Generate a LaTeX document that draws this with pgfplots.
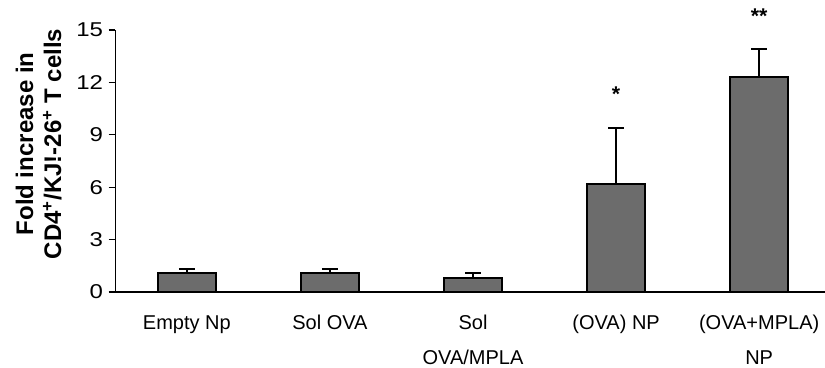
\documentclass[border=0pt]{standalone}
\usepackage{pgfplots}
\pgfplotsset{compat=1.18}
\usepackage{fontspec}
\setmainfont{Liberation Sans}
\definecolor{barfill}{HTML}{6C6C6C}
\begin{document}
\begin{tikzpicture}
\begin{axis}[
  name=ax, at={(0,0)}, anchor=south west,
  scale only axis, width=532.3pt, height=196.5pt,
  xmin=-0.5, xmax=4.46, ymin=0, ymax=15,
  axis lines=left, axis line style={-, line width=0.8pt},
  tick align=outside,
  ytick={0,3,6,9,12,15},
  major tick length=5pt,
  tick style={line width=0.8pt, black},
  xtick={0,1,2,3,4},
  xticklabels={Empty Np, Sol OVA, Sol\\OVA/MPLA, (OVA) NP, (OVA+MPLA)\\NP},
  x tick label style={align=center, font=\fontsize{15}{26}\selectfont, yshift=-9pt},
  xtick style={draw=none},
  extra x ticks={0.5,1.5,2.5,3.5},
  extra x tick labels={},
  extra x tick style={tick style={draw=black, line width=0.8pt}, major tick length=6pt},
  y tick label style={font=\fontsize{15}{17}\selectfont, xscale=1.2},
  /pgf/number format/assume math mode=true,
  clip=false,
]
\addplot[ybar, bar width=43.5pt, fill=barfill, draw=black, line width=1.4pt,
  error bars/.cd, y dir=plus, y explicit,
  error bar style={line width=1.4pt, black},
  error mark options={rotate=90, line width=1.4pt, mark size=6pt, black}]
  coordinates {
  (0,1.11) +- (0,0.19)
  (1,1.11) +- (0,0.19)
  (2,0.82) +- (0,0.28)
  (3,6.18) +- (0,3.19)
  (4,12.33) +- (0,1.57)
};
\node[font=\fontsize{16}{16}\selectfont\bfseries] at (axis cs:3,11.3) {*};
\node[font=\fontsize{16}{16}\selectfont\bfseries] at (axis cs:4,15.8) {**};
\node[rotate=90, align=center, font=\fontsize{18}{21}\selectfont\bfseries] at (axis description cs:-0.108,0.565) {Fold increase in\\CD4\textsuperscript{+}/KJ!-26\textsuperscript{+} T cells};
\end{axis}
\pgfresetboundingbox
\path[use as bounding box] (-86.5pt,-57pt) rectangle (532.3pt,219pt);
\end{tikzpicture}
\end{document}
